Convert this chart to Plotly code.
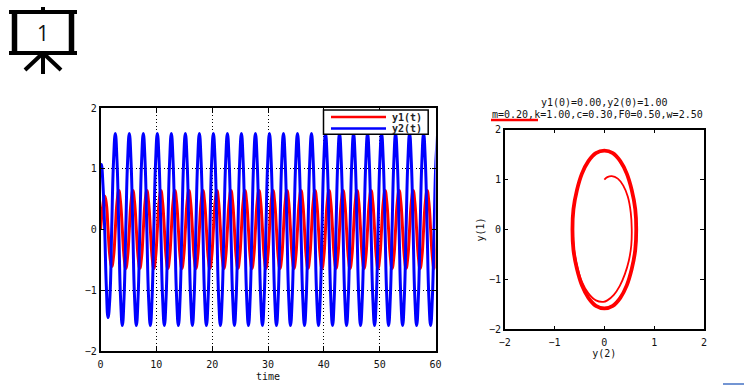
import plotly.graph_objects as go

W, H = 744, 385

time = [0, 0.15, 0.45, 0.75, 1.05, 1.35, 1.68, 2.00, 2.33,
 2.65, 2.96, 3.28, 3.59, 3.91, 4.22, 4.53, 4.85,
 5.16, 5.47, 5.79, 6.10, 6.42, 6.73, 7.04, 7.36,
 7.67, 7.98, 8.30, 8.61, 8.93, 9.24, 9.55, 9.87,
 10.18, 10.49, 10.81, 11.12, 11.44, 11.75, 12.06, 12.38,
 12.69, 13.00, 13.32, 13.63, 13.95, 14.26, 14.57, 14.89,
 15.20, 15.51, 15.83, 16.14, 16.46, 16.77, 17.08, 17.40,
 17.71, 18.02, 18.34, 18.65, 18.97, 19.28, 19.59, 19.91,
 20.22, 20.53, 20.85, 21.16, 21.48, 21.79, 22.10, 22.42,
 22.73, 23.04, 23.36, 23.67, 23.99, 24.30, 24.61, 24.93,
 25.24, 25.55, 25.87, 26.18, 26.50, 26.81, 27.12, 27.44,
 27.75, 28.06, 28.38, 28.69, 29.01, 29.32, 29.63, 29.95,
 30.26, 30.57, 30.89, 31.20, 31.52, 31.83, 32.14, 32.46,
 32.77, 33.08, 33.40, 33.71, 34.03, 34.34, 34.65, 34.97,
 35.28, 35.59, 35.91, 36.22, 36.54, 36.85, 37.16, 37.48,
 37.79, 38.10, 38.42, 38.73, 39.05, 39.36, 39.67, 39.99,
 40.30, 40.61, 40.93, 41.24, 41.56, 41.87, 42.18, 42.50,
 42.81, 43.12, 43.44, 43.75, 44.07, 44.38, 44.69, 45.01,
 45.32, 45.63, 45.95, 46.26, 46.58, 46.89, 47.20, 47.52,
 47.83, 48.14, 48.46, 48.77, 49.09, 49.40, 49.71, 50.03,
 50.34, 50.65, 50.97, 51.28, 51.60, 51.91, 52.22, 52.54,
 52.85, 53.16, 53.48, 53.79, 54.11, 54.42, 54.73, 55.05,
 55.36, 55.67, 55.99, 56.30, 56.62, 56.93, 57.24, 57.56,
 57.87, 58.18, 58.50, 58.81, 59.13, 59.44, 59.75, 60.07, 60.38]

y1 = [0, 0.15, 0.42, 0.55, 0.42, 0, -0.44, -0.61, -0.45,
 0, .45, .64, .45, 0, -.45, -.64, -.45,
 0, .45, .64, .45, 0, -.45, -.64, -.45,
 0, .45, .64, .45, 0, -.45, -.64, -.45,
 0, .45, .64, .45, 0, -.45, -.64, -.45,
 0, .45, .64, .45, 0, -.45, -.64, -.45,
 0, .45, .64, .45, 0, -.45, -.64, -.45,
 0, .45, .64, .45, 0, -.45, -.64, -.45,
 0, .45, .64, .45, 0, -.45, -.64, -.45,
 0, .45, .64, .45, 0, -.45, -.64, -.45,
 0, .45, .64, .45, 0, -.45, -.64, -.45,
 0, .45, .64, .45, 0, -.45, -.64, -.45,
 0, .45, .64, .45, 0, -.45, -.64, -.45,
 0, .45, .64, .45, 0, -.45, -.64, -.45,
 0, .45, .64, .45, 0, -.45, -.64, -.45,
 0, .45, .64, .45, 0, -.45, -.64, -.45,
 0, .45, .64, .45, 0, -.45, -.64, -.45,
 0, .45, .64, .45, 0, -.45, -.64, -.45,
 0, .45, .64, .45, 0, -.45, -.64, -.45,
 0, .45, .64, .45, 0, -.45, -.64, -.45,
 0, .45, .64, .45, 0, -.45, -.64, -.45,
 0, .45, .64, .45, 0, -.45, -.64, -.45,
 0, .45, .64, .45, 0, -.45, -.64, -.45,
 0, .45, .64, .45, 0, -.45, -.64, -.45, 0]

y2 = [1.00, 1.07, 0.72, 0, -0.95, -1.45, -1.12, 0, 1.12,
 1.58, 1.12, 0, -1.12, -1.58, -1.12, 0, 1.12,
 1.58, 1.12, 0, -1.12, -1.58, -1.12, 0, 1.12,
 1.58, 1.12, 0, -1.12, -1.58, -1.12, 0, 1.12,
 1.58, 1.12, 0, -1.12, -1.58, -1.12, 0, 1.12,
 1.58, 1.12, 0, -1.12, -1.58, -1.12, 0, 1.12,
 1.58, 1.12, 0, -1.12, -1.58, -1.12, 0, 1.12,
 1.58, 1.12, 0, -1.12, -1.58, -1.12, 0, 1.12,
 1.58, 1.12, 0, -1.12, -1.58, -1.12, 0, 1.12,
 1.58, 1.12, 0, -1.12, -1.58, -1.12, 0, 1.12,
 1.58, 1.12, 0, -1.12, -1.58, -1.12, 0, 1.12,
 1.58, 1.12, 0, -1.12, -1.58, -1.12, 0, 1.12,
 1.58, 1.12, 0, -1.12, -1.58, -1.12, 0, 1.12,
 1.58, 1.12, 0, -1.12, -1.58, -1.12, 0, 1.12,
 1.58, 1.12, 0, -1.12, -1.58, -1.12, 0, 1.12,
 1.58, 1.12, 0, -1.12, -1.58, -1.12, 0, 1.12,
 1.58, 1.12, 0, -1.12, -1.58, -1.12, 0, 1.12,
 1.58, 1.12, 0, -1.12, -1.58, -1.12, 0, 1.12,
 1.58, 1.12, 0, -1.12, -1.58, -1.12, 0, 1.12,
 1.58, 1.12, 0, -1.12, -1.58, -1.12, 0, 1.12,
 1.58, 1.12, 0, -1.12, -1.58, -1.12, 0, 1.12,
 1.58, 1.12, 0, -1.12, -1.58, -1.12, 0, 1.12,
 1.58, 1.12, 0, -1.12, -1.58, -1.12, 0, 1.12,
 1.58, 1.12, 0, -1.12, -1.58, -1.12, 0, 1.12, 1.58]

# phase portrait, first spiralling loop then the settled orbit
first_loop_x = [0, 0.06, 0.15, 0.27, 0.38, 0.47, 0.53, 0.55, 0.54, 0.49, 0.41, 0.31, 0.19, 0.06, -0.02, -0.17, -0.32,
                -0.45, -0.55, -0.61, -0.63, -0.62, -0.55, -0.45, -0.32, -0.17, 0]
first_loop_y = [1.00, 1.05, 1.07, 1.02, 0.88, 0.66, 0.34, 0, -0.32, -0.63, -0.90, -1.13, -1.31, -1.42, -1.45, -1.42, -1.28,
                -1.05, -0.72, -0.38, 0, 0.41, 0.79, 1.12, 1.37, 1.53, 1.58]
orbit_x = [0, 0.17, 0.32, 0.45, 0.55, 0.62, 0.64, 0.62, 0.55, 0.45, 0.32, 0.17,
           0, -0.17, -0.32, -0.45, -0.55, -0.62, -0.64, -0.62, -0.55, -0.45, -0.32, -0.17, 0]
orbit_y = [1.58, 1.53, 1.37, 1.12, 0.79, 0.41, 0, -0.41, -0.79, -1.12, -1.37, -1.53,
           -1.58, -1.53, -1.37, -1.12, -0.79, -0.41, 0, 0.41, 0.79, 1.12, 1.37, 1.53, 1.58]

time_ticks = [0, 10, 20, 30, 40, 50, 60]
value_ticks = [-2, -1, 0, 1, 2]
series_names = ["y1(t)", "y2(t)"]
title_lines = ["y1(0)=0.00,y2(0)=1.00", "m=0.20,k=1.00,c=0.30,F0=0.50,w=2.50"]
slide_number = "1"

FONT = "DejaVu Sans Mono"
RED, BLUE = "#ff0000", "#0000ff"
TEXT = "#111111"


def fx(p):
    return p / W


def fy(p):
    return 1 - p / H


fig = go.Figure()
fig.add_trace(go.Scatter(x=time, y=y1, name=series_names[0], mode="lines", xaxis="x", yaxis="y",
                         line=dict(color=RED, width=3, shape="spline", smoothing=1.3)))
fig.add_trace(go.Scatter(x=time, y=y2, name=series_names[1], mode="lines", xaxis="x", yaxis="y",
                         line=dict(color=BLUE, width=3, shape="spline", smoothing=1.3)))
fig.add_trace(go.Scatter(x=first_loop_x, y=first_loop_y, mode="lines", xaxis="x2", yaxis="y2",
                         line=dict(color=RED, width=1.8, shape="spline")))
fig.add_trace(go.Scatter(x=orbit_x, y=orbit_y, mode="lines", xaxis="x2", yaxis="y2",
                         line=dict(color=RED, width=3.8, shape="spline")))

axis_common = dict(showline=True, linecolor="black", linewidth=1.5, mirror="ticks", ticks="inside",
                   ticklen=4, tickcolor="black", tickwidth=1, zeroline=False,
                   tickfont=dict(family=FONT, size=10, color=TEXT))
grid = dict(showgrid=True, gridcolor="black", gridwidth=1, griddash="1px,2.5px")


def note(text, px, py, font=FONT, size=10, color=TEXT, anchor="center", weight="normal"):
    return dict(text=text, x=fx(px), y=fy(py), xref="paper", yref="paper", showarrow=False,
                xanchor=anchor, yanchor="middle", font=dict(family=font, size=size, color=color, weight=weight))


def seg(x0, y0, x1, y1_, color="black", width=5):
    return dict(type="line", xref="paper", yref="paper", x0=fx(x0), y0=fy(y0), x1=fx(x1), y1=fy(y1_),
                line=dict(color=color, width=width), layer="above")


fig.update_layout(
    width=W, height=H, autosize=False, margin=dict(l=0, r=0, t=0, b=0, autoexpand=False),
    paper_bgcolor="white", plot_bgcolor="white", showlegend=False,
    xaxis=dict(domain=[fx(100.5), fx(435.5)], range=[0, 60], tickvals=time_ticks, anchor="y", ticklabelstandoff=3,
               title=dict(text="time", font=dict(family=FONT, size=10, color=TEXT), standoff=4),
               **axis_common, **grid),
    yaxis=dict(domain=[fy(351), fy(108)], range=[-2, 2], tickvals=value_ticks, anchor="x",
               **axis_common, **grid),
    xaxis2=dict(domain=[fx(504.7), fx(704)], range=[-2, 2], tickvals=value_ticks, anchor="y2", ticklabelstandoff=3,
                title=dict(text="y(2)", font=dict(family=FONT, size=10, color=TEXT), standoff=2),
                showgrid=False, **axis_common),
    yaxis2=dict(domain=[fy(329.3), fy(129.7)], range=[-2, 2], tickvals=value_ticks, anchor="x2",
                title=dict(text="y(1)", font=dict(family=FONT, size=10, color=TEXT), standoff=2),
                showgrid=False, **axis_common),
    annotations=[
        note(title_lines[0], 604, 103),
        note(title_lines[1], 597, 114),
        note(slide_number, 42.5, 33, font="Open Sans", size=21, color="#111111"),
        note(series_names[0], 390, 117, anchor="left", color="#222222", weight="bold"),
        note(series_names[1], 390, 128, anchor="left", color="#222222", weight="bold"),
    ],
    shapes=[
        seg(9, 12, 77, 12, width=4),
        seg(9, 53, 77, 53, width=4),
        seg(14.5, 12, 14.5, 53, width=5.5),
        seg(71.5, 12, 71.5, 53, width=5.5),
        seg(43, 7, 43, 12, width=4),
        seg(43, 53, 43, 74, width=4),
        seg(43, 53, 25, 70, width=4),
        seg(43, 53, 61, 70, width=4),
        seg(491, 120, 538, 120, color=RED, width=2.5),
        seg(723, 384, 744, 384, color="#4472c4", width=1.5),
        dict(type="rect", xref="paper", yref="paper", x0=fx(323.5), x1=fx(428.2), y0=fy(134.2), y1=fy(110),
             fillcolor="white", line=dict(color="black", width=1.5), layer="above"),
        seg(331, 117, 386, 117, color=RED, width=2.5),
        seg(331, 128.5, 386, 128.5, color=BLUE, width=2.5),
    ],
)

fig.write_html("out.html", config=dict(displayModeBar=False),
               post_script="document.body.style.margin='0';document.body.style.overflow='hidden';")
